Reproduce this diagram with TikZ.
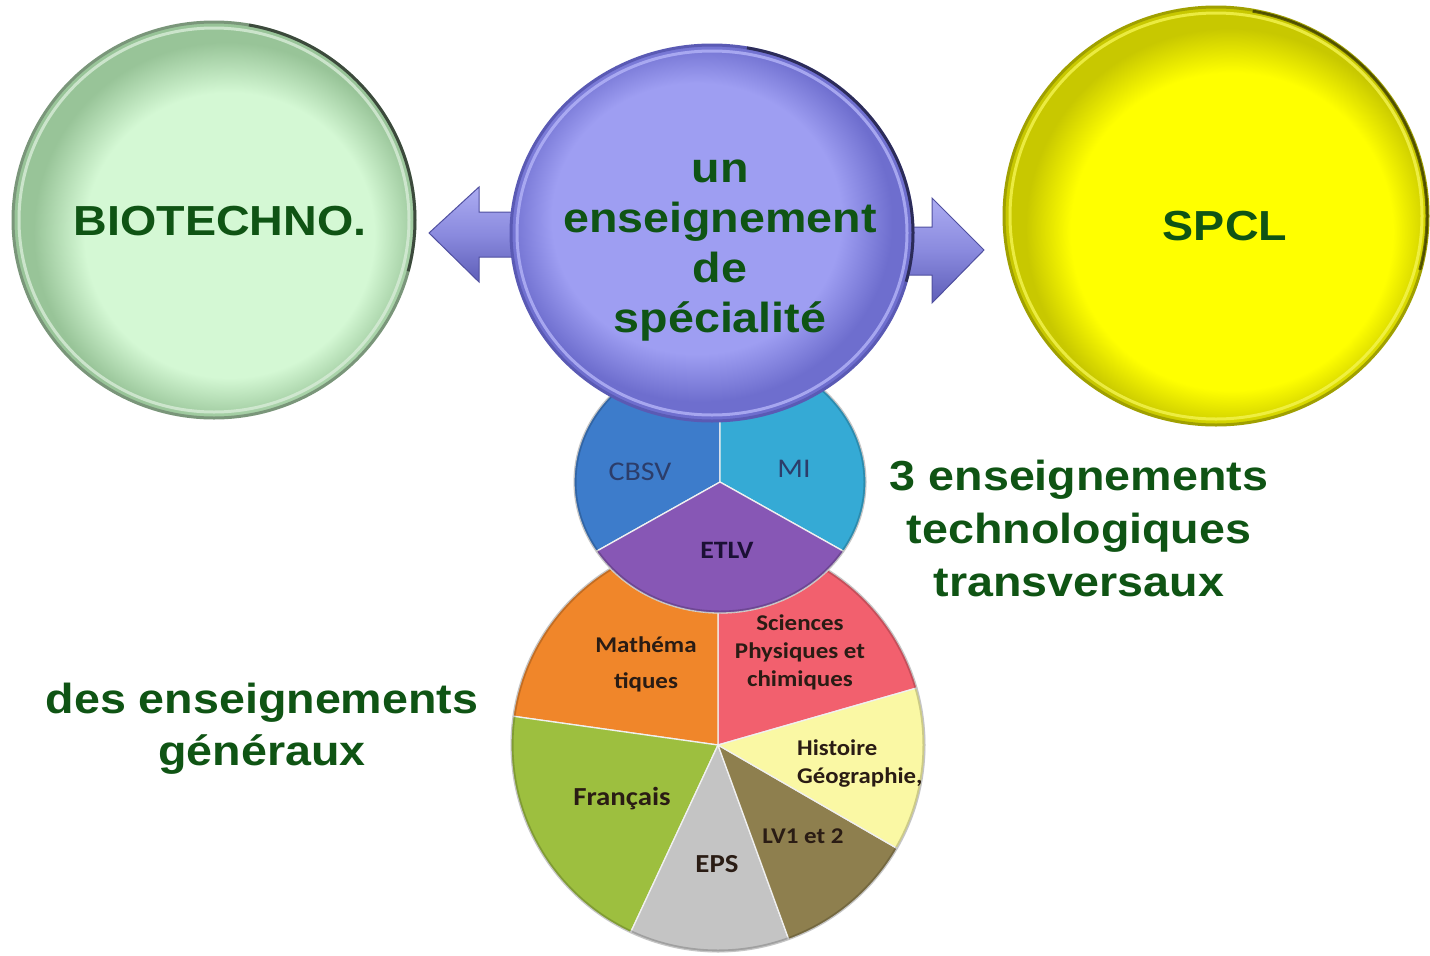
\documentclass[tikz,border=0pt]{standalone}
\usepackage{fontspec}
\usepackage{graphicx}
\setmainfont{Liberation Sans}
\newfontfamily\calfont{Carlito}
\usetikzlibrary{shapes.geometric,calc}

\definecolor{txtgreen}{HTML}{0F5414}
\definecolor{pieink}{HTML}{2A1C14}
\definecolor{etlvink}{HTML}{1B1035}
\definecolor{cbsvink}{HTML}{2C3D6A}
\definecolor{puIn}{HTML}{9E9EF2}
\definecolor{puEdge}{HTML}{6E6ECE}
\definecolor{puRim}{HTML}{5A5AB4}
\definecolor{puLight}{HTML}{B4B4F8}
\definecolor{grIn}{HTML}{D4F8D4}
\definecolor{grEdge}{HTML}{98C498}
\definecolor{grRim}{HTML}{7A967A}
\definecolor{grLight}{HTML}{D8ECD8}
\definecolor{yeIn}{HTML}{FFFF00}
\definecolor{yeEdge}{HTML}{C8C800}
\definecolor{yeRim}{HTML}{A0A000}
\definecolor{yeLight}{HTML}{F4F450}
\definecolor{arrowhi}{HTML}{ACACF2}
\definecolor{arrowmid}{HTML}{8A8ADE}
\definecolor{arrowlo}{HTML}{5E5EB8}
\definecolor{arrowline}{HTML}{5050A0}
\definecolor{cSci}{HTML}{F2606E}
\definecolor{cMath}{HTML}{F0862A}
\definecolor{cFr}{HTML}{9DBF3F}
\definecolor{cEps}{HTML}{C4C4C4}
\definecolor{cLv}{HTML}{8E7F4E}
\definecolor{cHist}{HTML}{FAF8A4}
\definecolor{cCbsv}{HTML}{3D7CCB}
\definecolor{cMi}{HTML}{35AAD5}
\definecolor{cEtlv}{HTML}{8757B5}

\pgfdeclareradialshading{glasspurple}{\pgfpoint{-3bp}{3bp}}{color(0bp)=(puIn); color(18bp)=(puIn); color(24bp)=(puEdge); color(26bp)=(puEdge); color(50bp)=(puEdge)}
\pgfdeclareradialshading{glassgreen}{\pgfpoint{3bp}{-3bp}}{color(0bp)=(grIn); color(18bp)=(grIn); color(24bp)=(grEdge); color(26bp)=(grEdge); color(50bp)=(grEdge)}
\pgfdeclareradialshading{glassyellow}{\pgfpoint{3bp}{-3bp}}{color(0bp)=(yeIn); color(19bp)=(yeIn); color(24bp)=(yeEdge); color(26bp)=(yeEdge); color(50bp)=(yeEdge)}

\newcommand\stk[1]{\scalebox{1.11}[1]{\vtop{\halign{\hfil##\hfil\cr#1\crcr}}}}
\newcommand\stkl[1]{\scalebox{1.1}[1]{\vtop{\halign{##\hfil\cr#1\crcr}}}}
\newcommand\pieslice[6]{\filldraw[fill=#6, slice] (#1) -- ++(#2:#4 and #5) arc[start angle=#2, end angle=#3, x radius=#4, y radius=#5] -- cycle;}

\pgfdeclarelayer{paper}
\pgfdeclarelayer{under}
\pgfsetlayers{paper,under,main}

\begin{document}
\begin{tikzpicture}[x=1pt,y=-1pt,
  bigtxt/.style={inner sep=0, anchor=base, text=txtgreen, font=\bfseries\fontsize{42}{50}\selectfont},
  pietxt/.style={inner sep=0, anchor=base, text=pieink, font=\calfont\bfseries\fontsize{22.5}{28}\selectfont},
  slice/.style={draw=white!88!gray, line width=1.3},
  glass/.style={ellipse, inner sep=0, shade, line width=3},
  ring/.style={line width=3, opacity=.8},
  rimshadow/.style={line width=3, opacity=.5, draw=black},
  arrowbody/.style={draw=arrowline, line width=1, top color=arrowhi, bottom color=arrowlo, middle color=arrowmid}
]
\begin{pgfonlayer}{paper}
\fill[white] (0,0) rectangle (1430,956);
\end{pgfonlayer}
\useasboundingbox (0,0) rectangle (1430,956);

% general pie
\coordinate (gen) at (718,745);
\pieslice{gen}{-16}{-90}{207}{207}{cSci}
\pieslice{gen}{-90}{-172}{207}{207}{cMath}
\pieslice{gen}{-172}{-245}{207}{207}{cFr}
\pieslice{gen}{-245}{-290}{207}{207}{cEps}
\pieslice{gen}{-290}{-330}{207}{207}{cLv}
\pieslice{gen}{-330}{-376}{207}{207}{cHist}
\draw[black, opacity=.18, line width=3] (gen) ellipse[x radius=206, y radius=206];

% technological pie
\coordinate (tech) at (720,482);
\pieslice{tech}{-90}{-212}{146}{131}{cCbsv}
\pieslice{tech}{32}{-90}{146}{131}{cMi}
\pieslice{tech}{-212}{-328}{146}{131}{cEtlv}
\draw[black, opacity=.18, line width=3] (tech) ellipse[x radius=145, y radius=130];

% central circle
\node[glass, shading=glasspurple, draw=puRim, minimum width=402, minimum height=376] (spec) at (712,233) {};
\draw[puLight, ring] (spec.center) ellipse[x radius=195, y radius=182];
\draw[rimshadow] ($(spec.center)+(-80:201 and 188)$) arc[start angle=-80, end angle=15, x radius=201, y radius=188];

% arrows
\coordinate (ltip) at (429,233);
\coordinate (rtip) at (984,250);
\begin{pgfonlayer}{under}
\draw[arrowbody] ($(spec.west)+(10,-21)$) -- ($(ltip)+(50,-21)$) -- ($(ltip)+(50,-46)$) -- (ltip) -- ($(ltip)+(50,49)$) -- ($(ltip)+(50,24)$) -- ($(spec.west)+(10,24)$) -- cycle;
\draw[arrowbody] ($(spec.east)+(-10,-6)$) -- ($(rtip)+(-52,-23)$) -- ($(rtip)+(-52,-52)$) -- (rtip) -- ($(rtip)+(-52,53)$) -- ($(rtip)+(-52,25)$) -- ($(spec.east)+(-10,42)$) -- cycle;
\end{pgfonlayer}

% side circles
\node[glass, shading=glassgreen, draw=grRim, minimum width=402, minimum height=396] (bio) at (214,220) {};
\draw[grLight, ring] (bio.center) ellipse[x radius=195, y radius=192];
\draw[rimshadow] ($(bio.center)+(-80:201 and 198)$) arc[start angle=-80, end angle=15, x radius=201, y radius=198];

\node[glass, shading=glassyellow, draw=yeRim, minimum width=424, minimum height=418] (spcl) at (1216,216) {};
\draw[yeLight, ring] (spcl.center) ellipse[x radius=206, y radius=203];
\draw[rimshadow] ($(spcl.center)+(-80:211 and 208)$) arc[start angle=-80, end angle=15, x radius=211, y radius=208];

% big texts
\node[bigtxt] (biotxt) at (220,235) {\stk{BIOTECHNO.}};
\node[bigtxt] (spcltxt) at (1225,240) {\stk{SPCL}};
\node[bigtxt] (spectxt) at (720,182) {\stk{un\cr enseignement\cr de\cr spécialité}};
\node[bigtxt, font=\bfseries\fontsize{42}{53}\selectfont] (techtxt) at (1079,490) {\stk{3 enseignements\cr technologiques\cr transversaux}};
\node[bigtxt, font=\bfseries\fontsize{42}{52}\selectfont] (gentxt) at (262,713) {\stk{des enseignements\cr généraux}};

% pie labels
\node[pietxt, text=cbsvink, font=\calfont\fontsize{27}{30}\selectfont] (cbsvtxt) at (640,480) {\stk{CBSV}};
\node[pietxt, text=cbsvink, font=\calfont\fontsize{27}{30}\selectfont] (mitxt) at (794,477) {\stk{MI}};
\node[pietxt, text=etlvink, font=\calfont\bfseries\fontsize{25}{30}\selectfont] (etlvtxt) at (727,558) {\stk{ETLV}};
\node[pietxt, font=\calfont\bfseries\fontsize{22.5}{36}\selectfont] (mathtxt) at (646,652) {\stk{Mathéma\cr tiques}};
\node[pietxt] (scitxt) at (800,630) {\stk{Sciences\cr Physiques et\cr chimiques}};
\node[pietxt, anchor=base west] (histtxt) at (797,755) {\stkl{Histoire\cr Géographie,}};
\node[pietxt, font=\calfont\bfseries\fontsize{26}{30}\selectfont] (frtxt) at (622,805) {\stk{Français}};
\node[pietxt, font=\calfont\bfseries\fontsize{26}{30}\selectfont] (epstxt) at (717,872) {\stk{EPS}};
\node[pietxt] (lvtxt) at (803,843) {\stk{LV1 et 2}};
\end{tikzpicture}
\end{document}
